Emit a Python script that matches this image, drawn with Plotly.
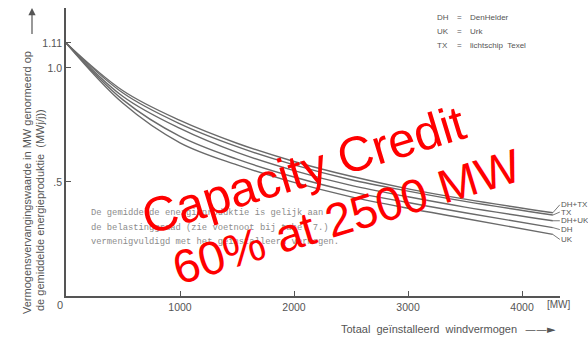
import plotly.graph_objects as go

# Installed wind capacity (MW)
mw = [0, 500, 1000, 1500, 2000, 2500, 3000, 3500, 4270]

# Capacity replacement value normalised on mean energy production, per site combination
series_names = ["DH+TX", "TX", "DH+UK", "DH", "UK"]
dh_tx = [1.11, 0.90, 0.770, 0.670, 0.590, 0.525, 0.470, 0.425, 0.365]
tx    = [1.11, 0.89, 0.755, 0.655, 0.575, 0.510, 0.460, 0.415, 0.355]
dh_uk = [1.11, 0.875, 0.735, 0.630, 0.550, 0.485, 0.435, 0.390, 0.330]
dh    = [1.11, 0.86, 0.700, 0.600, 0.522, 0.458, 0.410, 0.365, 0.300]
uk    = [1.11, 0.845, 0.672, 0.575, 0.498, 0.435, 0.385, 0.340, 0.270]
series_values = [dh_tx, tx, dh_uk, dh, uk]
label_offsets = [-8, -3, 0, 2, 5]   # vertical spread of end labels (px)

x_ticks = [1000, 2000, 3000, 4000]
y_ticks = [0.5, 1.0, 1.11]
y_tick_text = [".5", "1.0", "1.11"]

legend_abbr = ["DH", "UK", "TX"]
legend_names = ["DenHelder", "Urk", "lichtschip  Texel"]

note_lines = [
    "De gemiddelde energieproduktie is gelijk aan",
    "de belastinggraad (zie voetnoot bij tabel 7.)",
    "vermenigvuldigd met het geïnstalleerd vermogen.",
]

W, H = 588, 337
L, R, T, B = 66, 28, 8, 41
PW, PH = W - L - R, H - T - B


def px(x):
    return (x - L) / PW


def py(y):
    return (H - B - y) / PH


INK = "#555555"
LINE = "#6a6a6a"
SANS = "Liberation Sans Narrow, Liberation Sans, Arial, sans-serif"


def label(x, y, text, size, xanchor="center", color=INK, family=SANS, **kw):
    return dict(x=px(x), y=py(y), xref="paper", yref="paper", text=text,
                showarrow=False, xanchor=xanchor, yanchor="middle",
                font=dict(family=family, size=size, color=color), **kw)


fig = go.Figure()
for name, vals in zip(series_names, series_values):
    fig.add_trace(go.Scatter(
        x=mw, y=vals, name=name, mode="lines",
        line=dict(color=LINE, width=1.4, shape="spline", smoothing=1.0),
        showlegend=False, hoverinfo="skip",
    ))

annotations = []

# End-of-curve labels with short leader lines
for name, vals, off in zip(series_names, series_values, label_offsets):
    annotations.append(dict(
        x=mw[-1], y=vals[-1], xref="x", yref="y",
        text=name, showarrow=True, arrowhead=0, arrowwidth=0.8,
        arrowcolor=INK, ax=7, ay=off, xanchor="left", yanchor="middle",
        borderpad=0, font=dict(family=SANS, size=8, color=INK),
    ))

# Site abbreviation key
for i, (a, n) in enumerate(zip(legend_abbr, legend_names)):
    yy = 17 + i * 14.5
    annotations.append(label(435, yy, a, 8, "left"))
    annotations.append(label(455, yy, "=", 8, "left"))
    annotations.append(label(468, yy, n, 8, "left"))

# Typewritten note
for i, line in enumerate(note_lines):
    annotations.append(label(89, 213 + i * 14.5, line, 8.8, "left", color="#8c8c8c",
                             family="Liberation Mono, Courier New, monospace"))

# Origin label and unit
annotations.append(label(60, 305, "0", 11))
annotations.append(label(559, 304, "[MW]", 10))

# Axis titles with arrows
annotations.append(label(519, 329, "Totaal  geïnstalleerd  windvermogen", 11, "right"))
annotations.append(label(523, 329, "——►", 11, "left", family="DejaVu Sans, sans-serif"))
annotations.append(label(27, 183, "Vermogensvervangingswaarde in MW genormeerd op", 11,
                         textangle=-90))
annotations.append(label(40, 210, "de gemiddelde energieproduktie  (MWj/j))", 11,
                         textangle=-90))
annotations.append(dict(x=px(32), y=py(8), xref="paper", yref="paper", text=" ",
                        xanchor="center", yanchor="middle", showarrow=True,
                        arrowhead=2, arrowsize=1.2, arrowwidth=1.2, arrowcolor=INK,
                        ax=0.01, ay=36, standoff=0, startstandoff=0))

# Red overlay
RED_FONT = "Liberation Sans, Arial, sans-serif"
annotations.append(label(303, 170, "Capacity Credit", 49, color="#ff0000",
                         family=RED_FONT, textangle=-17))
annotations.append(label(346, 216, "60% at 2500 MW", 47, color="#ff0000",
                         family=RED_FONT, textangle=-17))

fig.update_layout(
    width=W, height=H,
    margin=dict(l=L, r=R, t=T, b=B),
    paper_bgcolor="white", plot_bgcolor="white",
    annotations=annotations,
    xaxis=dict(range=[0, 4333], tickvals=x_ticks, ticks="inside", ticklen=5,
               tickcolor=INK, showgrid=False, zeroline=False, showline=True,
               linecolor=INK, linewidth=1.8,
               tickfont=dict(family=SANS, size=10.5, color=INK)),
    yaxis=dict(range=[0, 1.263], tickvals=y_ticks, ticktext=y_tick_text,
               ticks="inside", ticklen=5, tickcolor=INK, showgrid=False,
               zeroline=False, showline=True, linecolor=INK, linewidth=1.8,
               tickfont=dict(family=SANS, size=10.5, color=INK)),
)

fig.write_html("out.html")
